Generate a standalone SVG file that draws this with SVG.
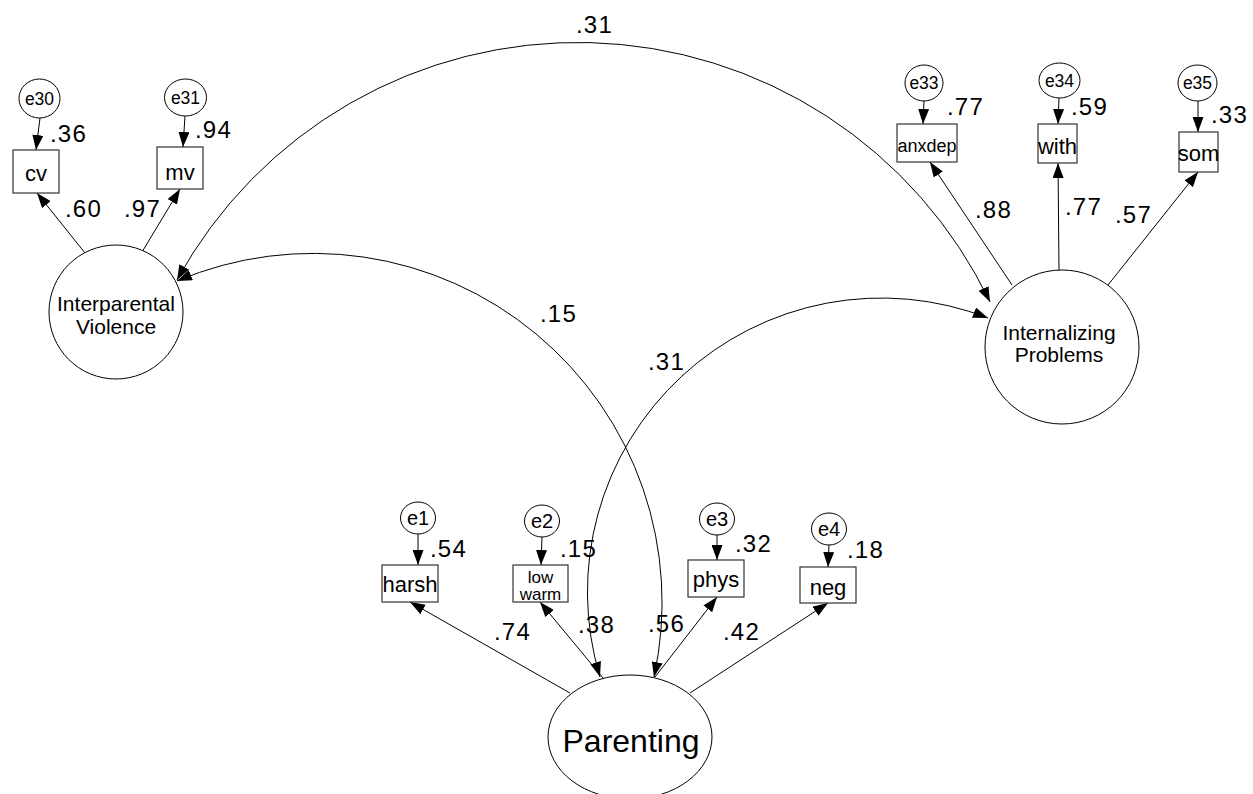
<svg xmlns="http://www.w3.org/2000/svg" width="1253" height="794" viewBox="0 0 1253 794">
<defs>
<style>
text{font-family:"Liberation Sans",Arial,sans-serif;fill:#000}
.lat{fill:#fff;stroke:#000;stroke-width:1}
.obs{fill:#fff;stroke:#333;stroke-width:1.2}
.err{fill:#fff;stroke:#000;stroke-width:1}
.ln{fill:none;stroke:#000;stroke-width:1}
.c{font-size:24px;letter-spacing:1.2px}
.lt{font-size:21px;text-anchor:middle}
.bx{font-size:22px;text-anchor:middle}
.et{font-size:17.5px;text-anchor:middle}
.eb{font-size:20px;text-anchor:middle}
</style>
<marker id="ah" viewBox="0 0 15 11" refX="15" refY="5.5" markerWidth="15" markerHeight="11" markerUnits="userSpaceOnUse" orient="auto-start-reverse"><path d="M0,0L15,5.5L0,11z" fill="#000"/></marker>
</defs>
<rect width="1253" height="794" fill="#fff"/>

<g id="connectors">
<path class="ln" d="M177,280 A457,457 0 0 1 990,302" marker-start="url(#ah)" marker-end="url(#ah)"/>
<path class="ln" d="M177,281 A349,349 0 0 1 654,677" marker-start="url(#ah)" marker-end="url(#ah)"/>
<path class="ln" d="M600,677 A294,294 0 0 1 988,318" marker-start="url(#ah)" marker-end="url(#ah)"/>
<line class="ln" x1="85" y1="253" x2="37" y2="193" marker-end="url(#ah)"/>
<line class="ln" x1="142" y1="252" x2="180" y2="189" marker-end="url(#ah)"/>
<line class="ln" x1="40" y1="118" x2="36" y2="150" marker-end="url(#ah)"/>
<line class="ln" x1="185" y1="116" x2="183" y2="147" marker-end="url(#ah)"/>
<line class="ln" x1="1012" y1="285" x2="930" y2="162" marker-end="url(#ah)"/>
<line class="ln" x1="1059" y1="270" x2="1058" y2="163" marker-end="url(#ah)"/>
<line class="ln" x1="1108" y1="285" x2="1198" y2="172" marker-end="url(#ah)"/>
<line class="ln" x1="924" y1="101" x2="923" y2="124" marker-end="url(#ah)"/>
<line class="ln" x1="1059" y1="98" x2="1058" y2="124" marker-end="url(#ah)"/>
<line class="ln" x1="1198" y1="101" x2="1198" y2="132" marker-end="url(#ah)"/>
<line class="ln" x1="570" y1="693" x2="410" y2="602" marker-end="url(#ah)"/>
<line class="ln" x1="603" y1="678" x2="540" y2="602" marker-end="url(#ah)"/>
<line class="ln" x1="655" y1="677" x2="717" y2="597" marker-end="url(#ah)"/>
<line class="ln" x1="690" y1="693" x2="828" y2="603" marker-end="url(#ah)"/>
<line class="ln" x1="418" y1="534" x2="418" y2="565" marker-end="url(#ah)"/>
<line class="ln" x1="542" y1="537" x2="541" y2="565" marker-end="url(#ah)"/>
<line class="ln" x1="717" y1="535" x2="717" y2="560" marker-end="url(#ah)"/>
<line class="ln" x1="829" y1="545" x2="828" y2="567" marker-end="url(#ah)"/>
</g>

<g id="coefficients">
<text class="c" x="576" y="33">.31</text>
<text class="c" x="540" y="322">.15</text>
<text class="c" x="648" y="370">.31</text>
<text class="c" x="50" y="142">.36</text>
<text class="c" x="195" y="138">.94</text>
<text class="c" x="65" y="217">.60</text>
<text class="c" x="124" y="217">.97</text>
<text class="c" x="947" y="115">.77</text>
<text class="c" x="1071" y="115">.59</text>
<text class="c" x="1211" y="123">.33</text>
<text class="c" x="975" y="218">.88</text>
<text class="c" x="1065" y="215">.77</text>
<text class="c" x="1115" y="223">.57</text>
<text class="c" x="430" y="557">.54</text>
<text class="c" x="560" y="557">.15</text>
<text class="c" x="494" y="640">.74</text>
<text class="c" x="578" y="633">.38</text>
<text class="c" x="648" y="632">.56</text>
<text class="c" x="735" y="552">.32</text>
<text class="c" x="723" y="640">.42</text>
<text class="c" x="847" y="558">.18</text>
</g>

<g id="interparental-violence">
<circle class="lat" cx="116" cy="312" r="67"/>
<text class="lt" x="116" y="311">Interparental</text>
<text class="lt" x="116" y="334">Violence</text>
</g>
<g id="internalizing-problems">
<circle class="lat" cx="1062" cy="347" r="77"/>
<text class="lt" x="1059" y="340">Internalizing</text>
<text class="lt" x="1059" y="362">Problems</text>
</g>
<g id="parenting">
<ellipse class="lat" cx="630" cy="737" rx="82" ry="62"/>
<text x="631" y="752" font-size="32" text-anchor="middle">Parenting</text>
</g>

<g id="cv"><rect class="obs" x="13" y="150" width="46" height="43"/><text class="bx" x="36" y="181">cv</text></g>
<g id="mv"><rect class="obs" x="157" y="147" width="46" height="42"/><text class="bx" x="180" y="180">mv</text></g>
<g id="e30"><ellipse class="err" cx="39.5" cy="98.5" rx="20.5" ry="19.5"/><text class="et" x="39.5" y="104.5">e30</text></g>
<g id="e31"><ellipse class="err" cx="185.5" cy="97.5" rx="21" ry="18.5"/><text class="et" x="185.5" y="103.5">e31</text></g>

<g id="anxdep"><rect class="obs" x="897" y="124" width="60" height="38"/><text x="927" y="152" font-size="18" text-anchor="middle">anxdep</text></g>
<g id="with"><rect class="obs" x="1038" y="124" width="39" height="39"/><text class="bx" x="1057.5" y="154">with</text></g>
<g id="som"><rect class="obs" x="1179" y="132" width="39" height="40"/><text class="bx" x="1198.5" y="161">som</text></g>
<g id="e33"><ellipse class="err" cx="924" cy="83" rx="19" ry="18"/><text class="et" x="924" y="89">e33</text></g>
<g id="e34"><ellipse class="err" cx="1059.5" cy="80.5" rx="20.5" ry="17.5"/><text class="et" x="1059.5" y="86.5">e34</text></g>
<g id="e35"><ellipse class="err" cx="1197.5" cy="83" rx="19.5" ry="18"/><text class="et" x="1197.5" y="89">e35</text></g>

<g id="harsh"><rect class="obs" x="382" y="565" width="56" height="37"/><text class="bx" x="410" y="592">harsh</text></g>
<g id="lowwarm"><rect class="obs" x="513" y="565" width="55" height="37"/><text x="540.5" y="583" font-size="17" text-anchor="middle">low</text><text x="540.5" y="600" font-size="17" text-anchor="middle">warm</text></g>
<g id="phys"><rect class="obs" x="688" y="560" width="56" height="37"/><text class="bx" x="716" y="587">phys</text></g>
<g id="neg"><rect class="obs" x="800" y="567" width="56" height="36"/><text class="bx" x="828" y="595">neg</text></g>
<g id="e1"><ellipse class="err" cx="418" cy="518" rx="17.5" ry="16"/><text class="eb" x="418" y="525">e1</text></g>
<g id="e2"><ellipse class="err" cx="542" cy="521" rx="17.5" ry="16"/><text class="eb" x="542" y="528">e2</text></g>
<g id="e3"><ellipse class="err" cx="717" cy="519" rx="17.5" ry="16"/><text class="eb" x="717" y="526">e3</text></g>
<g id="e4"><ellipse class="err" cx="829" cy="529" rx="17.5" ry="16"/><text class="eb" x="829" y="536">e4</text></g>
</svg>
